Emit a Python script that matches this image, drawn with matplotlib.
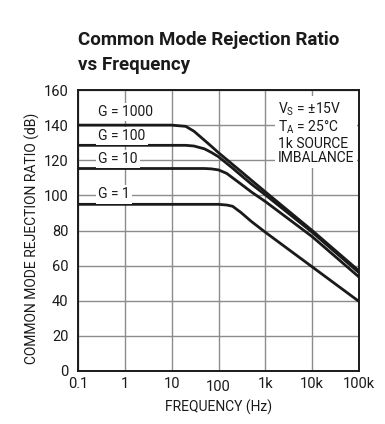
import matplotlib
matplotlib.use("Agg")
import matplotlib.pyplot as plt

plt.rcParams['font.family'] = ['Roboto', 'DejaVu Sans']
plt.rcParams['mathtext.fontset'] = 'custom'
plt.rcParams['mathtext.rm'] = 'Roboto'

# frequency points (Hz)
freq = [0.1, 10, 20, 30, 50, 70, 100, 150, 200, 300, 500, 1000, 10000, 100000]
# CMRR (dB) per gain
cmrr_g1000 = [140, 140, 139.3, 136.5, 131.4, 128, 124.3, 120.4, 117.6, 113.7, 108.7, 102, 80, 57]
cmrr_g100 = [128.5, 128.5, 128.5, 128.1, 126.5, 124.5, 122, 118.2, 115.5, 111.5, 106.5, 100.3, 79, 56]
cmrr_g10 = [115.3, 115.3, 115.3, 115.3, 115.3, 115.1, 114.5, 112.5, 110, 106.5, 102, 96.5, 76.5, 53.5]
cmrr_g1 = [94.9, 94.9, 94.9, 94.9, 94.9, 94.9, 94.9, 94.5, 93.8, 90.3, 85.2, 79, 59.3, 39.6]

gain_labels = ['G = 1000', 'G = 100', 'G = 10', 'G = 1']
label_y = [147.7, 133.8, 120.5, 100.5]

xticks = [0.1, 1, 10, 100, 1000, 10000, 100000]
xticklabels = ['0.1', '1', '10', '100', '1k', '10k', '100k']
yticks = [0, 20, 40, 60, 80, 100, 120, 140, 160]

fig = plt.figure(figsize=(3.85, 4.24), dpi=100)
ax = fig.add_axes([78/385, 53/424, 281/385, 281/424])

for y in [cmrr_g1000, cmrr_g100, cmrr_g10, cmrr_g1]:
    ax.plot(freq, y, color='#1a1a1a', lw=2.0, solid_joinstyle='round', zorder=3)

ax.set_xscale('log')
ax.set_xlim(0.1, 100000)
ax.set_ylim(0, 160)
ax.set_xticks(xticks)
ax.set_xticklabels(xticklabels)
ax.set_yticks(yticks)
ax.minorticks_off()
ax.tick_params(length=0, labelsize=10.5, colors='#1a1a1a')
ax.tick_params(axis='y', pad=7)
ax.tick_params(axis='x', pad=4)
# the "100" label sits a little lower in the original
ax.get_xticklabels()[3].set_y(-0.012)
ax.grid(True, color='#8c8c8c', lw=1.0)
ax.set_axisbelow(True)
for sp in ax.spines.values():
    sp.set_linewidth(1.4)
    sp.set_color('#1a1a1a')

for txt, yy in zip(gain_labels, label_y):
    ax.text(0.27, yy, txt, fontsize=10, ha='left', va='center', color='#1a1a1a',
            bbox=dict(facecolor='white', edgecolor='none', pad=1.5), zorder=4)

ax.text(1850, 154, 'V$_\\mathrm{S}$ = ±15V\nT$_\\mathrm{A}$ = 25°C\n1k SOURCE\nIMBALANCE',
        fontsize=10, ha='left', va='top', color='#1a1a1a', linespacing=1.05,
        bbox=dict(facecolor='white', edgecolor='none', pad=2), zorder=4)

ax.set_xlabel('FREQUENCY (Hz)', fontsize=10, color='#1a1a1a', labelpad=4)
ax.set_ylabel('COMMON MODE REJECTION RATIO (dB)', fontsize=10, color='#1a1a1a')
ax.yaxis.set_label_coords(-0.135, 0.473)

fig.text(78/385, 1 - 45/424, 'Common Mode Rejection Ratio', fontsize=13.5, fontweight='bold',
         ha='left', va='baseline', color='#1a1a1a')
fig.text(78/385, 1 - 70/424, 'vs Frequency', fontsize=13.5, fontweight='bold',
         ha='left', va='baseline', color='#1a1a1a')

fig.savefig('out.png', dpi=100)
